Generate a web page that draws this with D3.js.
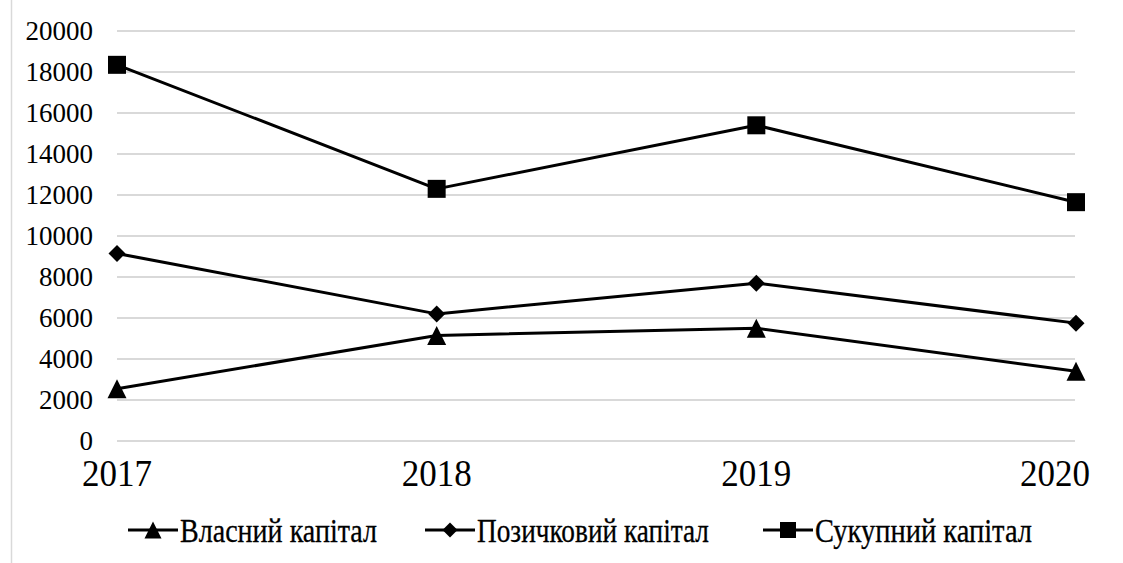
<!DOCTYPE html>
<html>
<head>
<meta charset="utf-8">
<script src="https://cdn.jsdelivr.net/npm/d3@7"></script>
<style>
  html, body { margin: 0; padding: 0; background: #fff; }
  svg { display: block; }
  svg text { font-family: "Liberation Serif", "Times New Roman", serif !important; fill: #000; }
</style>
</head>
<body>
<svg id="chart" width="1123" height="563" font-family="Liberation Serif, serif"></svg>
<script>
// Capital structure, 2017–2020
const years = ["2017", "2018", "2019", "2020"];
const ownCapital = [2550, 5150, 5500, 3400];
const borrowedCapital = [9150, 6200, 7700, 5750];
const totalCapital = [18350, 12300, 15400, 11650];
const yTicks = [0, 2000, 4000, 6000, 8000, 10000, 12000, 14000, 16000, 18000, 20000];
const seriesNames = ["Власний капітал", "Позичковий капітал", "Сукупний капітал"];

const series = [
  { name: seriesNames[0], values: ownCapital, marker: "triangle" },
  { name: seriesNames[1], values: borrowedCapital, marker: "diamond" },
  { name: seriesNames[2], values: totalCapital, marker: "square" }
];

const FONT = "Liberation Serif, Times New Roman, serif";
const svg = d3.select("#chart");

const x = d3.scalePoint().domain(years).range([117, 1076]);
const y = d3.scaleLinear().domain([0, 20000]).range([441, 31]);

// outer frame edge on the left
svg.append("line")
  .attr("x1", 11.5).attr("x2", 11.5).attr("y1", 0).attr("y2", 563)
  .attr("stroke", "#d9d9d9").attr("stroke-width", 1.5);

// horizontal gridlines
svg.append("g").selectAll("line")
  .data(yTicks)
  .join("line")
  .attr("x1", x(years[0])).attr("x2", x(years[years.length - 1]) - 1)
  .attr("y1", d => y(d)).attr("y2", d => y(d))
  .attr("stroke", "#d9d9d9").attr("stroke-width", 2);

// y axis labels
const yAxis = d3.axisLeft(y).tickValues(yTicks).tickSize(0).tickPadding(24)
  .tickFormat(d3.format("d"));
const gy = svg.append("g").attr("transform", `translate(${x(years[0])},0)`).call(yAxis);
gy.attr("font-family", FONT).attr("font-size", 27);
gy.select(".domain").remove();
gy.selectAll("text")
  .attr("font-family", FONT)
  .attr("font-size", 27)
  .attr("dy", "0.3em")
  .attr("fill", "#000");

// x axis labels (last one kept inside the frame)
const gx = svg.append("g").attr("font-family", FONT);
gx.selectAll("text")
  .data(years)
  .join("text")
  .attr("x", (d, i) => i === years.length - 1 ? Math.min(x(d), 1090 - 35) : x(d))
  .attr("y", 486)
  .attr("text-anchor", "middle")
  .attr("font-family", FONT)
  .attr("font-size", 37)
  .attr("textLength", 70)
  .attr("lengthAdjust", "spacingAndGlyphs")
  .text(d => d);

// marker shapes, centred on the point
function markerPath(type, s) {
  const h = s / 2;
  if (type === "square") return `M${-h},${-h}H${h}V${h}H${-h}Z`;
  if (type === "diamond") return `M0,${-h}L${h},0L0,${h}L${-h},0Z`;
  return `M0,${-h}L${h},${h}L${-h},${h}Z`;
}
const markerSize = { square: 18, diamond: 17, triangle: 19 };

const line = d3.line().x(d => x(d.year)).y(d => y(d.value));

series.forEach(s => {
  const pts = years.map((yr, i) => ({ year: yr, value: s.values[i] }));
  svg.append("path")
    .datum(pts)
    .attr("d", line)
    .attr("fill", "none")
    .attr("stroke", "#000")
    .attr("stroke-width", 3)
    .attr("stroke-linejoin", "round");
  svg.append("g").selectAll("path")
    .data(pts)
    .join("path")
    .attr("transform", d => `translate(${x(d.year)},${y(d.value)})`)
    .attr("d", markerPath(s.marker, markerSize[s.marker]))
    .attr("fill", "#000");
});

// legend
const legendItems = [
  { lineX: 128, textLen: 197 },
  { lineX: 425, textLen: 232 },
  { lineX: 763, textLen: 217 }
];
const legendY = 530;
const lg = svg.append("g").attr("font-family", FONT);
series.forEach((s, i) => {
  const it = legendItems[i];
  lg.append("line")
    .attr("x1", it.lineX).attr("x2", it.lineX + 50)
    .attr("y1", legendY).attr("y2", legendY)
    .attr("stroke", "#000").attr("stroke-width", 3);
  lg.append("path")
    .attr("transform", `translate(${it.lineX + 25},${legendY})`)
    .attr("d", markerPath(s.marker, markerSize[s.marker] - 2))
    .attr("fill", "#000");
  lg.append("text")
    .attr("x", it.lineX + 52)
    .attr("y", legendY + 12)
    .attr("font-family", FONT)
    .attr("font-size", 34)
    .attr("stroke", "#000")
    .attr("stroke-width", 0.3)
    .attr("textLength", it.textLen)
    .attr("lengthAdjust", "spacingAndGlyphs")
    .text(s.name);
});
</script>
</body>
</html>
